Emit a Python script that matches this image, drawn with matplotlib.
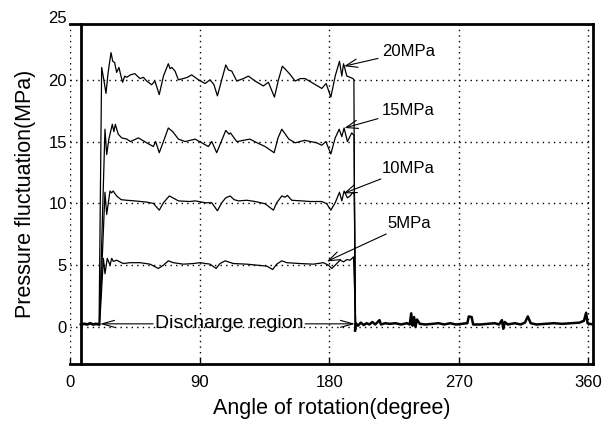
"""
转子旋转角度-压力脉动曲线 (5/10/15/20 MPa)
"""
import matplotlib
matplotlib.use("Agg")
import matplotlib.pyplot as plt

plt.rcParams['font.family'] = ['Liberation Sans', 'DejaVu Sans']

# ============================================================
#  数据区
# ============================================================
# 20MPa
ang_20 = [20.2, 22.0, 23.5, 25.0, 26.5, 28.5, 29.7, 31.0, 32.4, 34.0, 35.2, 36.6,
          38.0, 39.4, 42.0, 45.0, 48.6, 51.0, 53.3, 56.7, 59.0, 62.0, 64.9, 68.3,
          69.5, 70.7, 73.0, 75.3, 78.7, 81.5, 84.5, 89.2, 93.8, 97.3, 100.0, 102.4,
          105.4, 108.2, 110.0, 112.4, 115.8, 120.5, 123.9, 128.6, 134.3, 137.8, 142.0,
          144.8, 147.5, 150.0, 152.4, 156.4, 160.0, 163.3, 169.1, 174.9, 177.9, 181.2,
          184.2, 187.2, 188.8, 190.0, 192.3, 194.6, 196.5, 197.2, 198.0]
p_20 = [0.2, 21.0, 20.0, 18.9, 20.6, 22.2, 21.5, 21.4, 20.6, 21.0, 20.4, 19.8,
        20.3, 20.2, 20.4, 20.5, 20.1, 20.2, 19.9, 19.6, 19.9, 18.8, 20.3, 21.3,
        20.9, 21.0, 20.7, 20.0, 20.1, 20.2, 20.4, 20.0, 19.7, 20.0, 19.6, 18.7,
        20.0, 21.2, 20.8, 20.7, 19.9, 20.1, 20.3, 19.9, 19.5, 19.8, 18.6,
        20.0, 21.1, 20.8, 20.5, 19.9, 20.1, 20.1, 19.7, 19.3, 19.7, 18.6,
        20.3, 21.5, 20.3, 21.3, 20.3, 20.2, 20.1, 20.0, -0.2]

# 15MPa
ang_15 = [20.4, 24.3, 25.5, 27.0, 29.4, 30.5, 31.5, 33.5, 35.9, 39.5, 42.0, 47.5,
          53.3, 57.9, 59.5, 62.0, 64.9, 68.3, 71.4, 75.3, 80.0, 86.9, 91.5, 96.1,
          98.5, 101.9, 105.4, 108.2, 110.5, 111.5, 115.8, 125.0, 130.0, 135.5, 141.8,
          144.5, 147.1, 149.0, 152.0, 156.4, 163.0, 171.4, 174.9, 177.7, 181.2, 184.2,
          187.0, 188.8, 190.4, 192.7, 195.7, 197.3, 198.2]
p_15 = [0.2, 16.0, 13.95, 15.2, 16.4, 15.8, 16.4, 15.6, 15.3, 15.2, 15.0, 15.3,
        14.9, 14.6, 15.0, 14.1, 15.0, 16.1, 15.8, 15.2, 15.0, 15.2, 14.9, 14.6,
        15.0, 14.1, 15.1, 15.9, 15.6, 15.7, 15.0, 15.2, 14.9, 14.6, 14.1,
        15.3, 16.0, 15.7, 15.2, 14.9, 15.1, 14.9, 14.7, 15.0, 14.0, 15.3,
        16.0, 15.4, 16.1, 15.0, 15.7, 15.5, -0.2]

# 10MPa
ang_10 = [20.5, 24.3, 25.5, 27.8, 28.9, 30.0, 32.4, 35.5, 39.4, 45.0, 53.3, 57.9,
          62.0, 64.9, 69.0, 71.4, 75.3, 83.0, 87.0, 94.0, 98.5, 102.4, 105.4, 108.2,
          111.2, 114.0, 117.0, 122.8, 128.6, 135.5, 141.3, 143.6, 147.1, 149.4, 151.0,
          154.0, 161.0, 166.8, 174.9, 178.3, 181.2, 184.2, 187.2, 188.8, 190.4, 192.7,
          194.6, 196.4, 197.5, 198.4]
p_10 = [0.2, 10.9, 9.1, 11.0, 10.85, 11.0, 10.6, 10.3, 10.25, 10.2, 10.1, 10.0,
        9.45, 10.05, 10.6, 10.45, 10.2, 10.15, 10.2, 10.05, 10.05, 9.4, 10.05, 10.45,
        10.6, 10.3, 10.2, 10.25, 10.15, 9.97, 9.45, 10.05, 10.6, 10.5, 10.65,
        10.25, 10.2, 10.15, 10.15, 9.97, 9.45, 10.05, 10.9, 10.2, 11.0, 10.45,
        10.6, 10.9, 10.7, -0.2]

# 5MPa
ang_5 = [20.6, 23.2, 24.3, 25.9, 27.8, 29.0, 30.1, 32.4, 37.0, 41.7, 48.6, 55.6,
         61.4, 64.9, 68.3, 71.8, 78.7, 85.7, 90.3, 97.3, 101.5, 104.2, 107.7, 113.5,
         122.8, 129.7, 136.7, 140.8, 143.6, 147.1, 150.6, 159.8, 169.1, 176.0, 179.5,
         181.8, 184.2, 187.6, 190.0, 192.3, 194.6, 196.9, 198.6]
p_5 = [0.2, 5.55, 4.3, 5.55, 5.0, 5.55, 5.3, 5.4, 5.13, 5.2, 5.2, 5.08,
       4.73, 5.0, 5.35, 5.2, 5.08, 5.13, 5.2, 5.08, 4.73, 5.13, 5.35, 5.13,
       5.08, 5.0, 4.92, 4.65, 5.08, 5.35, 5.2, 5.13, 5.08, 5.2, 5.0,
       4.73, 5.0, 5.4, 5.27, 5.45, 5.4, 5.67, -0.2]

# 排气区外的基线（粗线）
ang_base_l = [7.6, 10.0, 12.0, 14.0, 16.0, 18.0, 20.2]
p_base_l = [0.2, 0.25, 0.2, 0.3, 0.2, 0.25, 0.2]
ang_base_r = [198.0, 198.5, 200, 202, 204, 206, 208, 210, 212, 215, 216, 219, 222, 226,
              230, 234, 236, 237, 238, 239, 240, 241, 243, 247, 252, 256, 260, 264,
              268, 272, 276, 277, 279, 280, 285, 290, 295, 298, 300, 301, 302, 304,
              309, 313, 316, 318, 320, 324, 330, 336, 342, 348, 354, 357, 358.5,
              359.5, 361, 363.3]
p_base_r = [-0.3, 0.3, 0.1, 0.35, 0.15, 0.3, 0.2, 0.4, 0.2, 0.55, 0.2, 0.3, 0.25, 0.3,
            0.2, 0.3, 0.2, 1.1, 0.1, 0.8, 0.0, 0.6, 0.25, 0.2, 0.25, 0.3, 0.2, 0.3,
            0.2, 0.25, 0.3, 0.85, 0.8, 0.2, 0.2, 0.25, 0.3, 0.2, 0.55, -0.15, 0.4, 0.2,
            0.3, 0.2, 0.35, 0.85, 0.3, 0.2, 0.25, 0.3, 0.25, 0.3, 0.35, 0.5, 1.15,
            0.3, 0.25, 0.2]

X_TICKS = [0, 90, 180, 270, 360]
Y_TICKS = [0, 5, 10, 15, 20]

# 标注: (文字, 箭头指向, 文字位置)
LABELS = [('20MPa', (190.4, 21.1), (216.8, 22.3)),
          ('15MPa', (190.7, 16.1), (216.8, 17.55)),
          ('10MPa', (190.0, 10.8), (216.8, 12.85)),
          ('5MPa', (178.4, 5.3), (220.8, 8.4))]

# ============================================================
#  绘图
# ============================================================
fig = plt.figure(figsize=(6.07, 4.32), dpi=100)
ax = fig.add_axes([0.1153, 0.1574, 0.977 - 0.1153, 0.944 - 0.1574])

for a, p in [(ang_20, p_20), (ang_15, p_15), (ang_10, p_10), (ang_5, p_5)]:
    ax.plot(a, p, color='black', lw=0.9)
ax.plot(ang_base_l, p_base_l, color='black', lw=2.0)
ax.plot(ang_base_r, p_base_r, color='black', lw=1.8)

ax.set_xlim(0, 363.3)
ax.set_ylim(-3, 24.5)
ax.set_xticks(X_TICKS)
ax.set_yticks(Y_TICKS)
ax.tick_params(axis='x', direction='in', length=4, width=1, pad=8, labelsize=12)
ax.tick_params(axis='y', length=0, pad=10, labelsize=12)
ax.grid(True, color='black', linestyle=(0, (1, 3)), linewidth=1.0)

# 左轴线偏移到约 7.6 度处（与原图一致）
ax.spines['left'].set_position(('data', 7.6))
for s in ax.spines.values():
    s.set_linewidth(2.0)

ax.text(-2.2, 25, '25', ha='right', va='center', fontsize=12, clip_on=False)

ax.set_xlabel('Angle of rotation(degree)', fontsize=15.5, labelpad=6)
ax.set_ylabel('Pressure fluctuation(MPa)', fontsize=15.5, labelpad=9)

for txt, tip, pos in LABELS:
    ax.annotate(txt, xy=tip, xytext=pos, fontsize=12, ha='left', va='center',
                arrowprops=dict(arrowstyle='->,head_length=0.7,head_width=0.25',
                                color='black', lw=0.8, shrinkA=1, shrinkB=0))

# 排气区标注
ax.text(110.5, 0.25, 'Discharge region', fontsize=14, ha='center', va='center')
arrow_kw = dict(arrowstyle='->,head_length=0.9,head_width=0.25', color='black',
                lw=0.8, shrinkA=0, shrinkB=0)
ax.annotate('', xy=(20.8, 0.25), xytext=(57.7, 0.25), arrowprops=arrow_kw)
ax.annotate('', xy=(198.0, 0.25), xytext=(163.3, 0.25), arrowprops=arrow_kw)

fig.savefig('out.png', dpi=100)
